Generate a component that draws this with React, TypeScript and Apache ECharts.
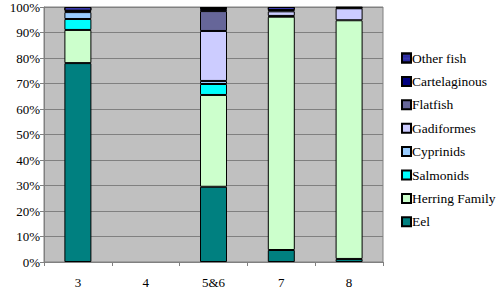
import React, { useEffect, useRef } from "react";
import * as echarts from "echarts";

const categories = ["3", "4", "5&6", "7", "8"];
const seriesNames = ["Eel", "Herring Family", "Salmonids", "Cyprinids", "Gadiformes", "Flatfish", "Cartelaginous", "Other fish"];
const eel = [78, 0, 29.5, 4.7, 1.2];
const herring = [13, 0, 36, 91.5, 93.6];
const salmonids = [4.3, 0, 4.3, 0, 0];
const cyprinids = [2.7, 0, 1.2, 0.3, 0];
const gadiformes = [0, 0, 19.6, 1.8, 4.7];
const flatfish = [0.5, 0, 7.8, 0, 0];
const cartelaginous = [0, 0, 0.8, 0.5, 0.2];
const otherFish = [1.5, 0, 0.8, 1.2, 0.3];
const yTicks = ["0%", "10%", "20%", "30%", "40%", "50%", "60%", "70%", "80%", "90%", "100%"];

const colors = ["#008080", "#CCFFCC", "#00FFFF", "#99CCFF", "#CCCCFF", "#666699", "#000080", "#2B2BA0"];
const values = [eel, herring, salmonids, cyprinids, gadiformes, flatfish, cartelaginous, otherFish];

export default function App() {
  const ref = useRef<HTMLDivElement>(null);
  useEffect(() => {
    if (!ref.current) return;
    const chart = echarts.init(ref.current, null, { renderer: "svg" });
    const font = "Liberation Serif";
    chart.setOption({
      animation: false,
      textStyle: { fontFamily: font },
      grid: {
        left: 44,
        right: 117,
        top: 7,
        bottom: 31,
        show: true,
        backgroundColor: "#C0C0C0",
        borderColor: "#808080",
        borderWidth: 1,
      },
      legend: {
        orient: "vertical",
        left: 396,
        top: 46,
        itemWidth: 9,
        itemHeight: 9,
        itemGap: 9.4,
        icon: "rect",
        data: seriesNames.slice().reverse(),
        textStyle: { fontFamily: font, fontSize: 13.5, color: "#000", lineHeight: 14, padding: [0, 0, 0, -4] },
      },
      xAxis: {
        type: "category",
        data: categories,
        axisLine: { show: true, lineStyle: { color: "#808080" } },
        axisTick: { show: true, length: 4, lineStyle: { color: "#808080" } },
        axisLabel: { fontFamily: font, fontSize: 13, color: "#000", margin: 14 },
      },
      yAxis: {
        type: "value",
        min: 0,
        max: 100,
        interval: 10,
        axisLine: { show: true, lineStyle: { color: "#808080" } },
        axisTick: { show: true, length: 4, lineStyle: { color: "#808080" } },
        axisLabel: {
          fontFamily: font,
          fontSize: 13,
          color: "#000",
          margin: 4,
          formatter: (v: number) => yTicks[Math.round(v / 10)],
        },
        splitLine: { show: true, lineStyle: { color: "#808080", width: 1 } },
      },
      series: seriesNames.map((name, i) => ({
        name,
        type: "bar",
        stack: "total",
        barWidth: 27,
        data: values[i].map((v) => (v === 0 ? "-" : v)),
        itemStyle: {
          color: colors[i],
          borderColor: "#000",
          borderWidth: 1,
          ...(name === "Other fish"
            ? { decal: { symbol: "rect", symbolSize: 0.4, color: "rgba(150,150,255,0.6)", dashArrayX: [2, 0], dashArrayY: [2, 2] } }
            : {}),
        },
      })),
    });
    return () => chart.dispose();
  }, []);
  return <div ref={ref} style={{ width: 500, height: 293, position: "absolute", left: 0, top: 0 }} />;
}
